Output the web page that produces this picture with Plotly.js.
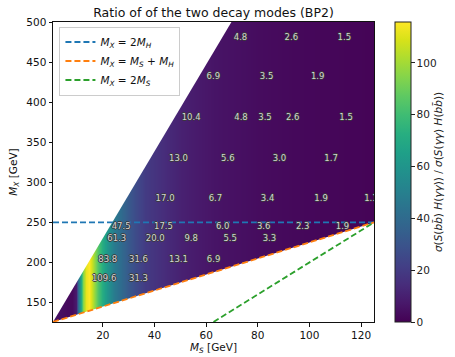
<!DOCTYPE html>
<html>
<head>
<meta charset="utf-8">
<script src="https://cdn.plot.ly/plotly-3.0.1.min.js"></script>
<style>html,body{margin:0;padding:0;background:#fff;}#chart{width:455px;height:357px;}</style>
</head>
<body>
<div id="chart"></div>
<script>
// ---- data ----
const MH = 125;
const msRange = [0.7, 125];
const mxRange = [125.7, 500];

// ratio as a function of M_S (colour of the map)
const msKnots    = [0.7, 3, 6, 8, 9.5, 10.5, 11.5, 12.5, 13.5, 14.5, 15.5, 17, 18, 20, 21.5, 24.5, 27, 30.3, 33, 36.5, 40, 45.5, 50.5, 55, 60, 63.5, 66, 71, 75, 79.5, 85, 90, 94, 100, 105, 111, 121.6, 125];
const ratioKnots = [6, 5, 3, 3, 8, 40, 70, 95, 112, 115.8, 110, 95, 84, 70, 61, 47.5, 40, 31.5, 26, 20, 17.2, 13.1, 10.2, 8.5, 6.9, 6.0, 5.5, 4.8, 4.3, 3.5, 3.0, 2.6, 2.3, 1.9, 1.7, 1.5, 1.1, 1.05];
const mxRows = [125.7, 500];

// upper-left edge of the filled region (two points on it)
const edgeMS = [0.7, 69.8];
const edgeMX = [125.7, 500];

// printed values
const labelMS = [73.3, 93.0, 113.5,
                 62.8, 83.4, 103.2,
                 54.2, 73.5, 82.8, 93.5, 114.2,
                 49.3, 68.4, 88.4, 108.4,
                 44.1, 63.6, 83.8, 104.5, 123.8,
                 27.1, 43.5, 66.4, 82.3, 97.4, 112.8,
                 25.4, 40.3, 54.2, 69.3, 84.5,
                 21.9, 33.8, 49.3, 62.9,
                 20.5, 33.8];
const labelMX = [480, 480, 480,
                 431.5, 431.5, 431.5,
                 380, 380, 380, 380, 380,
                 329, 329, 329, 329,
                 279, 279, 279, 279, 279,
                 244, 244, 244, 244, 244, 244,
                 229, 229, 229, 229, 229,
                 203.5, 203.5, 203.5, 203.5,
                 179, 179];
const labelText = ["4.8","2.6","1.5",
                   "6.9","3.5","1.9",
                   "10.4","4.8","3.5","2.6","1.5",
                   "13.0","5.6","3.0","1.7",
                   "17.0","6.7","3.4","1.9","1.1",
                   "47.5","17.5","6.0","3.6","2.3","1.9",
                   "61.3","20.0","9.8","5.5","3.3",
                   "83.8","31.6","13.1","6.9",
                   "109.6","31.3"];

// ---- build traces ----
const zGrid = mxRows.map(() => ratioKnots.slice());

const slope = (edgeMX[1] - edgeMX[0]) / (edgeMS[1] - edgeMS[0]);
const xLo = -5, xHi = 130, yTop = 520, yBot = 100;
const upperMask = {
  x: [xLo, edgeMS[0] + (yTop - edgeMX[0]) / slope, xLo, xLo],
  y: [edgeMX[0] + (xLo - edgeMS[0]) * slope, yTop, yTop, edgeMX[0] + (xLo - edgeMS[0]) * slope],
  type: 'scatter', mode: 'lines', fill: 'toself', fillcolor: '#ffffff',
  line: {width: 0, color: '#ffffff'}, hoverinfo: 'skip', showlegend: false
};
const lowerMask = {
  x: [xLo, xHi, xHi, xLo, xLo],
  y: [xLo + MH, xHi + MH, yBot, yBot, xLo + MH],
  type: 'scatter', mode: 'lines', fill: 'toself', fillcolor: '#ffffff',
  line: {width: 0, color: '#ffffff'}, hoverinfo: 'skip', showlegend: false
};

const heat = {
  type: 'heatmap', x: msKnots, y: mxRows, z: zGrid,
  zsmooth: 'best', colorscale: 'Viridis', zmin: 0, zmax: 115.8,
  showscale: true, hoverinfo: 'skip',
  colorbar: {
    x: 1.062, xanchor: 'left', xpad: 0, ypad: 0, y: 0.5, yanchor: 'middle',
    len: 1, lenmode: 'fraction', thickness: 16, thicknessmode: 'pixels',
    outlinewidth: 1, outlinecolor: '#222',
    tickmode: 'array', tickvals: [0, 20, 40, 60, 80, 100],
    ticks: 'outside', ticklen: 3.5, tickcolor: '#222',
    tickfont: {family: 'DejaVu Sans', size: 10.5, color: '#222'},
    title: {text: '<i>σ</i>(<i>S</i>(<i>b</i><i>b̄</i>) <i>H</i>(<i>γγ</i>)) / <i>σ</i>(<i>S</i>(<i>γγ</i>) <i>H</i>(<i>b</i><i>b̄</i>))',
            side: 'right', font: {family: 'DejaVu Sans', size: 10.5, color: '#222'}}
  }
};

const msLine = [msRange[0], msRange[1]];
const blue = {x: msLine, y: msLine.map(() => 2 * MH), type: 'scatter', mode: 'lines',
  name: '<i>M</i><sub><i>X</i></sub> = 2<i>M</i><sub><i>H</i></sub>',
  line: {color: '#1f77b4', width: 1.8, dash: '6px,3px'}, hoverinfo: 'skip'};
const orange = {x: msLine, y: msLine.map(m => m + MH), type: 'scatter', mode: 'lines',
  name: '<i>M</i><sub><i>X</i></sub> = <i>M</i><sub><i>S</i></sub> + <i>M</i><sub><i>H</i></sub>',
  line: {color: '#ff7f0e', width: 1.8, dash: '6px,3px'}, hoverinfo: 'skip'};
const greenMS = [mxRange[0] / 2, msRange[1]];
const green = {x: greenMS, y: greenMS.map(m => 2 * m), type: 'scatter', mode: 'lines',
  name: '<i>M</i><sub><i>X</i></sub> = 2<i>M</i><sub><i>S</i></sub>',
  line: {color: '#2ca02c', width: 1.8, dash: '6px,3px'}, hoverinfo: 'skip'};

const labels = {
  x: labelMS, y: labelMX, text: labelText, type: 'scatter', mode: 'text',
  textposition: 'middle center', showlegend: false, hoverinfo: 'skip', cliponaxis: true,
  textfont: {family: 'DejaVu Sans', size: 8.5, color: '#d4d4d4',
             shadow: '1px 0 0 #3a3a3a, -1px 0 0 #3a3a3a, 0 1px 0 #3a3a3a, 0 -1px 0 #3a3a3a'}
};

const axisFont = {family: 'DejaVu Sans', size: 10.5, color: '#111'};
const layout = {
  width: 455, height: 357,
  margin: {l: 53, r: 80, t: 22, b: 35, pad: 0},
  paper_bgcolor: '#fff', plot_bgcolor: '#fff',
  font: {family: 'DejaVu Sans', color: '#111'},
  title: {text: 'Ratio of of the two decay modes (BP2)', x: 0.5, xref: 'paper',
          y: 0.966, yref: 'container', yanchor: 'middle',
          font: {family: 'DejaVu Sans', size: 12.5, color: '#111'}},
  xaxis: {range: msRange, tickvals: [20, 40, 60, 80, 100, 120], ticks: 'outside', ticklen: 3.5,
          tickcolor: '#111', showline: true, mirror: true, linecolor: '#111', linewidth: 1,
          showgrid: false, zeroline: false, tickfont: axisFont,
          title: {text: '<i>M</i><sub><i>S</i></sub> [GeV]', font: axisFont, standoff: 3}},
  yaxis: {range: mxRange, tickvals: [150, 200, 250, 300, 350, 400, 450, 500], ticks: 'outside', ticklen: 3.5,
          tickcolor: '#111', showline: true, mirror: true, linecolor: '#111', linewidth: 1,
          showgrid: false, zeroline: false, tickfont: axisFont,
          title: {text: '<i>M</i><sub><i>X</i></sub> [GeV]', font: axisFont, standoff: 6}},
  legend: {x: 0.02, y: 0.985, xanchor: 'left', yanchor: 'top', bgcolor: 'rgba(255,255,255,0.9)',
           bordercolor: '#cccccc', borderwidth: 1, itemwidth: 30, tracegroupgap: 0,
           traceorder: 'normal',
           font: {family: 'DejaVu Sans', size: 10.5, color: '#111'}},
  showlegend: true
};

Plotly.newPlot('chart', [heat, upperMask, lowerMask, blue, orange, green, labels], layout,
  {staticPlot: true, displayModeBar: false});
</script>
</body>
</html>
